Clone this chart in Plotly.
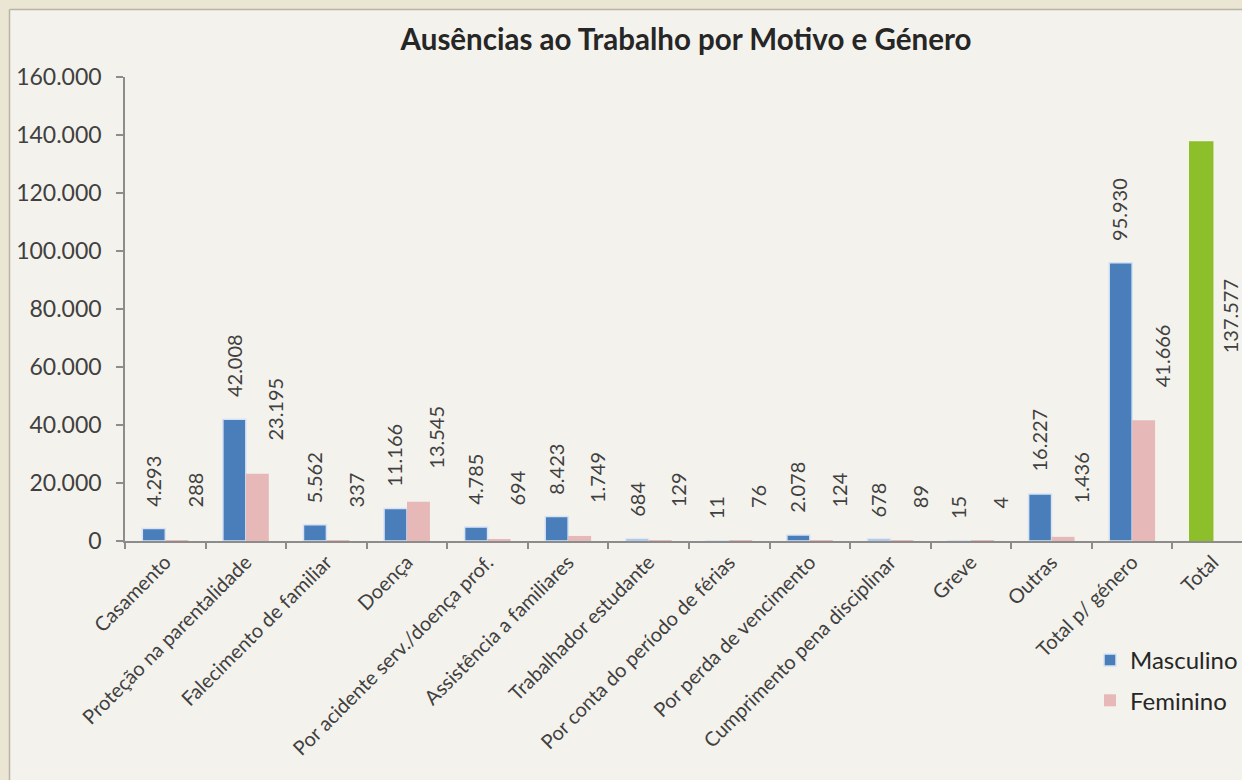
import plotly.graph_objects as go

# Absence counts by reason and gender
categories = [
    "Casamento", "Proteção na parentalidade", "Falecimento de familiar", "Doença",
    "Por acidente serv./doença prof.", "Assistência a familiares", "Trabalhador estudante",
    "Por conta do período de férias", "Por perda de vencimento", "Cumprimento pena disciplinar",
    "Greve", "Outras", "Total p/ género", "Total",
]
masculino = [4293, 42008, 5562, 11166, 4785, 8423, 684, 11, 2078, 678, 15, 16227, 95930, 137577]
feminino = [288, 23195, 337, 13545, 694, 1749, 129, 76, 124, 89, 4, 1436, 41666, None]

BLUE = "#4a7ebb"
PINK = "#e6b9b8"
GREEN = "#8dbf2a"
TEXT = "#404040"
FONT = "Lato"
PANEL = "#f4f2ec"
PAGE = "#ebe5d4"

W, H = 1242, 780
ML, MR, MT, MB = 125, 0, 77, 239
plot_w = W - ML - MR
plot_h = H - MT - MB
n = len(categories)
x_end = n - 0.5 - 11 / (plot_w / (n - 0.14))  # last category runs slightly past the page edge
cat_px = plot_w / (x_end + 0.5)
bargap = 0.43
bar_px = cat_px * (1 - bargap) / 2


def fmt(v):
    return f"{v:,}".replace(",", ".")


blue_colors = [BLUE] * (n - 1) + [GREEN]
blue_lines = ["#d6e3f5"] * (n - 1) + [GREEN]

fig = go.Figure()
fig.add_trace(go.Bar(
    x=categories, y=masculino, name="Masculino", legendgroup="m",
    marker=dict(color=blue_colors, line=dict(color=blue_lines, width=1.5)),
))
fig.add_trace(go.Bar(
    x=categories, y=feminino, name="Feminino", legendgroup="f",
    marker=dict(color=PINK, line=dict(width=0)),
))

label_font = dict(family=FONT, size=20, color=TEXT)
annotations = []
for c, v in zip(categories, masculino):
    if c == "Total":
        annotations.append(dict(
            x=c, y=v, xref="x", yref="y", text=fmt(v), showarrow=False, textangle=-90,
            xanchor="center", yanchor="top", xshift=-bar_px / 2 + 29, yshift=-135,
            font=label_font,
        ))
    else:
        annotations.append(dict(
            x=c, y=v, xref="x", yref="y", text=fmt(v), showarrow=False, textangle=-90,
            xanchor="center", yanchor="bottom", xshift=-bar_px / 2 - 1, yshift=20,
            font=label_font,
        ))
for c, v in zip(categories, feminino):
    if v is None:
        continue
    annotations.append(dict(
        x=c, y=v, xref="x", yref="y", text=fmt(v), showarrow=False, textangle=-90,
        xanchor="center", yanchor="bottom", xshift=bar_px / 2 + 18, yshift=31,
        font=label_font,
    ))

# beige page bands on the left and top, with a thin edge around the chart panel
px_to_xpaper = lambda px: (px - ML) / plot_w
px_to_ypaper = lambda py: (H - MB - py) / plot_h
edge = dict(color="#b9b4a6", width=1.5)
left, top = 9.5, 9.5
shapes = [
    dict(type="rect", xref="paper", yref="paper", layer="below",
         x0=px_to_xpaper(-20), x1=px_to_xpaper(left),
         y0=px_to_ypaper(H + 20), y1=px_to_ypaper(-20),
         fillcolor=PAGE, line=dict(width=0)),
    dict(type="rect", xref="paper", yref="paper", layer="below",
         x0=px_to_xpaper(-20), x1=px_to_xpaper(W + 20),
         y0=px_to_ypaper(top), y1=px_to_ypaper(-20),
         fillcolor=PAGE, line=dict(width=0)),
    dict(type="line", xref="paper", yref="paper", layer="below",
         x0=px_to_xpaper(left), x1=px_to_xpaper(left),
         y0=px_to_ypaper(H + 20), y1=px_to_ypaper(top), line=edge),
    dict(type="line", xref="paper", yref="paper", layer="below",
         x0=px_to_xpaper(left), x1=px_to_xpaper(W + 20),
         y0=px_to_ypaper(top), y1=px_to_ypaper(top), line=edge),
]

fig.update_layout(
    width=W, height=H,
    margin=dict(l=ML, r=MR, t=MT, b=MB, autoexpand=False),
    paper_bgcolor=PANEL,
    plot_bgcolor="rgba(0,0,0,0)",
    separators=",.",
    barmode="group", bargap=bargap, bargroupgap=0,
    title=dict(
        text="<b>Ausências ao Trabalho por Motivo e Género</b>",
        x=686 / W, xanchor="center", y=1 - 40 / H, yanchor="middle",
        font=dict(family=FONT, size=29.5, color="#262626"),
    ),
    font=dict(family=FONT, color=TEXT),
    xaxis=dict(
        range=[-0.5, x_end], type="category", tickson="boundaries",
        ticks="outside", ticklen=6, tickcolor="#8c8c8c", tickwidth=1.5,
        showline=True, linecolor="#8c8c8c", linewidth=1.5,
        tickangle=-45, tickfont=dict(family=FONT, size=20, color=TEXT),
        showgrid=False, zeroline=False,
    ),
    yaxis=dict(
        range=[0, 160000], dtick=20000, tickformat=",d",
        ticks="outside", ticklen=7, tickcolor="#8c8c8c", tickwidth=1.5,
        showline=True, linecolor="#8c8c8c", linewidth=1.5,
        tickfont=dict(family=FONT, size=23, color=TEXT), ticklabelstandoff=10,
        showgrid=False, zeroline=False,
    ),
    legend=dict(
        x=px_to_xpaper(1090), y=px_to_ypaper(638), xanchor="left", yanchor="top",
        bgcolor="rgba(0,0,0,0)", font=dict(family=FONT, size=24, color="#262626"),
        traceorder="grouped", tracegroupgap=6, itemwidth=30,
    ),
    annotations=annotations,
    shapes=shapes,
)

fig.write_html("out.html")
